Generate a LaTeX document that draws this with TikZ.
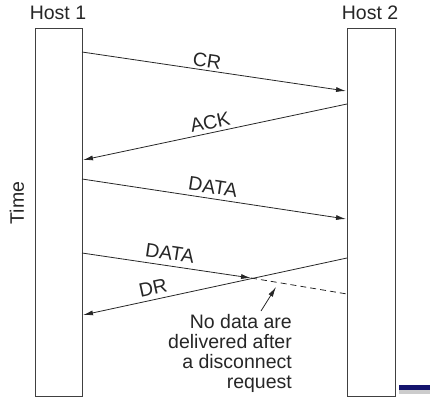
\documentclass[tikz,border=0pt]{standalone}
\usepackage{fontspec}
\setmainfont{Liberation Sans}
\usetikzlibrary{arrows.meta}
\begin{document}
\begin{tikzpicture}[x=1pt,y=-1pt,
  host/.style={draw=black!75, line width=0.9pt, fill=white, inner sep=0pt},
  msg/.style={-{Latex[length=10pt,width=5pt]}, line width=0.8pt, draw=black!85},
  lbl/.style={font=\fontsize{19.5}{20}\selectfont, inner sep=0pt, text=black!85}]
\useasboundingbox (0,0) rectangle (430,417);
% hosts
\node[host, minimum width=47pt, minimum height=368pt] (h1) at (58.5,212) {};
\node[host, minimum width=48pt, minimum height=368pt] (h2) at (371,212) {};
\node[lbl] (t1) at (58,13) {Host 1};
\node[lbl] (t2) at (370,13) {Host 2};
\node[lbl, rotate=90] (time) at (17,203) {Time};
% end points
\coordinate (cra) at (82,52);   \coordinate (crb) at (346,91);
\coordinate (acka) at (347,104); \coordinate (ackb) at (83,160);
\coordinate (da) at (82,179);   \coordinate (db) at (346,219);
\coordinate (d2a) at (82,253);  \coordinate (x) at (251,278);
\coordinate (dra) at (347,258); \coordinate (drb) at (83,315);
\coordinate (lost) at (347,294);
\coordinate (pa) at (261,311);  \coordinate (pb) at (276,287);
% messages
\draw[msg] (cra) -- (crb);
\draw[msg] (acka) -- (ackb);
\draw[msg] (da) -- (db);
\draw[msg] (d2a) -- (x);
\draw[msg] (dra) -- (drb);
\draw[line width=0.8pt, draw=black!85, dash pattern=on 6pt off 4pt] (x) -- (lost);
\draw[msg] (pa) -- (pb);
% labels
\node[lbl, rotate=-8.4] (lcr) at (207,61) {CR};
\node[lbl, rotate=12] (lack) at (210,122) {ACK};
\node[lbl, rotate=-8.7] (ldata) at (213,187) {DATA};
\node[lbl, rotate=-8.5] (ldata2) at (170,253) {DATA};
\node[lbl, rotate=12.2] (ldr) at (153,288) {DR};
\node[lbl, align=right, anchor=north east] (note) at (292,314)
  {No data are\\delivered after\\a disconnect\\request};
% decoration bar
\fill[black!20] (399,390) rectangle (430,394);
\fill[fill={rgb,255:red,20;green,20;blue,110}] (399,385) rectangle (430,390);
\end{tikzpicture}
\end{document}
